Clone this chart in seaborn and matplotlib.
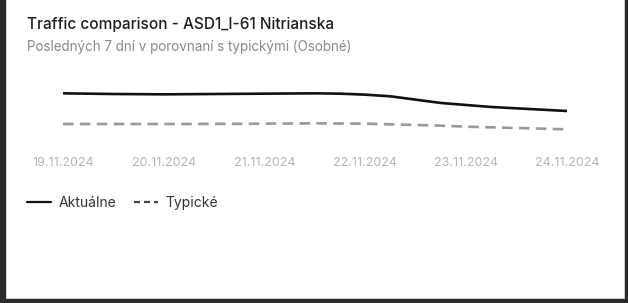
import matplotlib
matplotlib.use("Agg")
import matplotlib.pyplot as plt
import seaborn as sns
import pandas as pd
import numpy as np
from matplotlib.patches import Rectangle
from matplotlib.lines import Line2D

# ---- data (6-hour steps, days since 19.11.2024) ----
time_days = [0, 0.25, 0.5, 0.75, 1, 1.25, 1.5, 1.75, 2, 2.25, 2.5,
             2.75, 3, 3.25, 3.5, 3.75, 4, 4.25, 4.5, 4.75, 5]
aktualne = [1360, 1358, 1356, 1355, 1354, 1355, 1356, 1357, 1358, 1359, 1360,
            1358, 1352, 1342, 1322, 1302, 1290, 1278, 1270, 1262, 1254]
typicke = [1176, 1176, 1176, 1176, 1176, 1176, 1177, 1177, 1178, 1179, 1180,
           1179, 1178, 1174, 1170, 1166, 1160, 1156, 1152, 1148, 1144]
tick_labels = ["19.11.2024", "20.11.2024", "21.11.2024", "22.11.2024", "23.11.2024", "24.11.2024"]
series_names = ["Aktuálne", "Typické"]

df = pd.DataFrame({
    "t": time_days * 2,
    "v": aktualne + typicke,
    "s": [series_names[0]] * len(time_days) + [series_names[1]] * len(time_days),
})

sns.set_theme(style="white")
plt.rcParams["font.family"] = ["Inter", "DejaVu Sans"]

W, H = 628, 303
fig = plt.figure(figsize=(W / 100, H / 100), dpi=100)
fig.patch.set_facecolor("white")

ax = fig.add_axes([63 / W, 1 - 140 / H, 504 / W, 60 / H])
sns.lineplot(data=df[df.s == series_names[0]], x="t", y="v", ax=ax,
             color="#111111", linewidth=1.9, legend=False)
sns.lineplot(data=df[df.s == series_names[1]], x="t", y="v", ax=ax,
             color="#9a9a9a", linewidth=1.9, legend=False, dashes=False)
ax.lines[1].set_dashes((4, 2.4))
ax.set_xlim(0, 5)
ax.set_ylim(1080, 1440)
ax.set_xticks(range(6))
ax.set_xticklabels(tick_labels)
ax.tick_params(axis="x", length=0, pad=12, labelsize=9.0, labelcolor="#b5b5b5")
ax.set_yticks([])
ax.set_xlabel("")
ax.set_ylabel("")
for sp in ax.spines.values():
    sp.set_visible(False)
ax.set_facecolor("none")

# titles
fig.text(27 / W, 1 - 25 / H, "Traffic comparison - ASD1_I-61 Nitrianska",
         fontsize=11.1, color="#1e1e1e", fontweight="medium", va="center", ha="left")
fig.text(27 / W, 1 - 47 / H, "Posledných 7 dní v porovnaní s typickými (Osobné)",
         fontsize=9.7, color="#8a8a8a", va="center", ha="left")

# legend
handles = [Line2D([], [], color="#111111", linewidth=1.6),
           Line2D([], [], color="#444444", linewidth=1.6, dashes=(2.7, 1.8))]
fig.legend(handles, series_names, loc="center left",
           bbox_to_anchor=(27 / W, 1 - 203 / H), ncol=2, frameon=False,
           fontsize=10.0, labelcolor="#333333", handlelength=1.7,
           handletextpad=0.55, columnspacing=1.3, borderpad=0, borderaxespad=0)

# frame borders
fig.patches.append(Rectangle((0, 0), 6 / W, 1, transform=fig.transFigure,
                             facecolor="#2a2a2a", edgecolor="none", zorder=10))
fig.patches.append(Rectangle((625 / W, 0), 3 / W, 1, transform=fig.transFigure,
                             facecolor="#2a2a2a", edgecolor="none", zorder=10))
fig.patches.append(Rectangle((0, 0), 1, 4 / H, transform=fig.transFigure,
                             facecolor="#2a2a2a", edgecolor="none", zorder=10))
fig.patches.append(Rectangle((6 / W, 4 / H), 1 / W, 1 - 4 / H, transform=fig.transFigure,
                             facecolor="#d0d0d0", edgecolor="none", zorder=10))
fig.patches.append(Rectangle((6 / W, 4 / H), 619 / W, 1.2 / H, transform=fig.transFigure,
                             facecolor="#cfcfcf", edgecolor="none", zorder=10))
fig.patches.append(Rectangle((624 / W, 4 / H), 1 / W, 1 - 4 / H, transform=fig.transFigure,
                             facecolor="#cfcfcf", edgecolor="none", zorder=10))

fig.savefig("out.png", dpi=100)
